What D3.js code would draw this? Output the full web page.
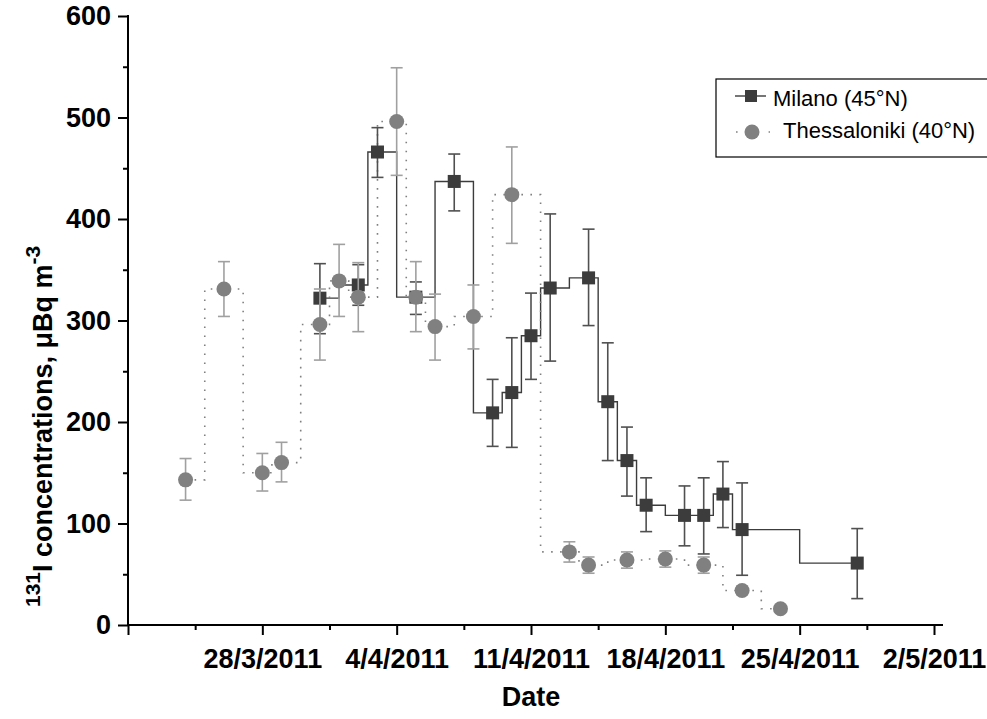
<!DOCTYPE html>
<html>
<head>
<meta charset="utf-8">
<script src="https://cdn.jsdelivr.net/npm/d3@7"></script>
<style>
  body { margin: 0; background: #fff; }
  text { font-family: Arial, "Liberation Sans", sans-serif; }
</style>
</head>
<body>
<script>
var w = 987;
var h = 719;

// Milano (45°N)
var milanoDates = ["2011-03-31","2011-04-02","2011-04-03","2011-04-05","2011-04-07","2011-04-09","2011-04-10","2011-04-11","2011-04-12","2011-04-14","2011-04-15","2011-04-16","2011-04-17","2011-04-19","2011-04-20","2011-04-21","2011-04-22","2011-04-28"];
var milanoValues = [322,335,466,323,437,209,229,285,332,342,220,162,118,108,108,129,94,61];
var milanoLow = [287,315,441,306,408,176,175,242,260,295,162,127,92,78,70,96,49,26];
var milanoHigh = [356,355,490,338,464,242,283,327,405,390,278,195,145,137,145,161,140,95];

// Thessaloniki (40°N)
var thessDates = ["2011-03-24","2011-03-26","2011-03-28","2011-03-29","2011-03-31","2011-04-01","2011-04-02","2011-04-04","2011-04-05","2011-04-06","2011-04-08","2011-04-10","2011-04-13","2011-04-14","2011-04-16","2011-04-18","2011-04-20","2011-04-22","2011-04-24"];
var thessValues = [143,331,150,160,296,339,323,496,323,294,304,424,72,59,64,65,59,34,16];
var thessLow = [123,304,132,141,261,304,289,443,289,261,272,376,62,51,56,57,51,30,13];
var thessHigh = [164,358,169,180,331,375,357,549,358,326,335,471,82,67,72,73,67,38,19];

// axis ticks
var xMajorTicks = ["2011-03-21","2011-03-28","2011-04-04","2011-04-11","2011-04-18","2011-04-25","2011-05-02"];
var yMajorTicks = [0,100,200,300,400,500,600];
var yMinorTicks = [50,150,250,350,450,550];

var parse = d3.utcParse("%Y-%m-%d");
var fmt = d3.utcFormat("%-d/%-m/%Y");

var svg = d3.select("body")
  .append("svg")
  .attr("width", w)
  .attr("height", h);

var x = d3.scaleUtc()
  .domain([parse("2011-03-21"), parse("2011-05-02")])
  .range([128, 934]);

var y = d3.scaleLinear()
  .domain([0, 600])
  .range([625, 16]);

function rows(dates, vals, lo, hi) {
  return dates.map(function(d, i) {
    return { date: parse(d), v: vals[i], lo: lo[i], hi: hi[i] };
  });
}
var milano = rows(milanoDates, milanoValues, milanoLow, milanoHigh);
var thess = rows(thessDates, thessValues, thessLow, thessHigh);

var majorDates = xMajorTicks.map(parse);
var minorDates = majorDates.slice(0, -1).map(function(d) {
  return new Date(d.getTime() + 3.5 * 864e5);
});

// x axis
var gx = svg.append("g").attr("transform", "translate(0,625)");
gx.call(d3.axisBottom(x).tickValues(majorDates).tickSize(10).tickSizeOuter(0)
  .tickFormat(function(d, i) { return i === 0 ? "" : fmt(d); }));
gx.append("g").call(d3.axisBottom(x).tickValues(minorDates).tickSize(5).tickFormat(""))
  .select(".domain").remove();
gx.select(".domain").remove();
gx.append("line").attr("x1", 127).attr("x2", 943).attr("stroke", "#000").attr("stroke-width", 2);
gx.selectAll(".tick line").attr("stroke", "#000").attr("stroke-width", 2);
gx.selectAll(".tick text")
  .attr("y", 43).attr("dy", null)
  .style("font-size", "27px").style("font-weight", "bold").attr("fill", "#000");

// y axis
var gy = svg.append("g").attr("transform", "translate(128,0)");
gy.call(d3.axisLeft(y).tickValues(yMajorTicks).tickSize(10).tickSizeOuter(0).tickPadding(7));
gy.append("g").call(d3.axisLeft(y).tickValues(yMinorTicks).tickSize(5).tickFormat(""))
  .select(".domain").remove();
gy.select(".domain").remove();
gy.append("line").attr("y1", 15).attr("y2", 626).attr("stroke", "#000").attr("stroke-width", 2);
gy.selectAll(".tick line").attr("stroke", "#000").attr("stroke-width", 2);
gy.selectAll(".tick text")
  .style("font-size", "27px").style("font-weight", "bold").attr("fill", "#000");

// axis titles
svg.append("text")
  .attr("x", 531).attr("y", 706)
  .attr("text-anchor", "middle")
  .style("font-size", "27px").style("font-weight", "bold")
  .text("Date");

var yt = svg.append("text")
  .attr("transform", "translate(52,607) rotate(-90)")
  .style("font-size", "27px").style("font-weight", "bold");
yt.append("tspan").attr("dy", -12).style("font-size", "21px").text("131");
yt.append("tspan").attr("dy", 12).text("I concentrations, \u03bcBq m");
yt.append("tspan").attr("dy", -12).style("font-size", "21px").text("-3");

// step lines
var line = d3.line()
  .x(function(d) { return x(d.date); })
  .y(function(d) { return y(d.v); })
  .curve(d3.curveStep);

svg.append("path").datum(milano)
  .attr("d", line)
  .attr("fill", "none")
  .attr("stroke", "#3c3c3c")
  .attr("stroke-width", 1.4);

svg.append("path").datum(thess)
  .attr("d", line)
  .attr("fill", "none")
  .attr("stroke", "#808080")
  .attr("stroke-width", 1.6)
  .attr("stroke-dasharray", "1.6,7.4");

function errorBars(data, color) {
  var g = svg.append("g").attr("stroke", color).attr("stroke-width", 1.6);
  g.selectAll(".v").data(data).enter().append("line")
    .attr("x1", function(d) { return x(d.date); })
    .attr("x2", function(d) { return x(d.date); })
    .attr("y1", function(d) { return y(d.lo); })
    .attr("y2", function(d) { return y(d.hi); });
  ["lo", "hi"].forEach(function(k) {
    g.selectAll(".c" + k).data(data).enter().append("line")
      .attr("x1", function(d) { return x(d.date) - 6; })
      .attr("x2", function(d) { return x(d.date) + 6; })
      .attr("y1", function(d) { return y(d[k]); })
      .attr("y2", function(d) { return y(d[k]); });
  });
}

// Milano markers
errorBars(milano, "#505050");
svg.selectAll(".sq").data(milano).enter().append("rect")
  .attr("x", function(d) { return x(d.date) - 6.5; })
  .attr("y", function(d) { return y(d.v) - 6.5; })
  .attr("width", 13).attr("height", 13)
  .attr("fill", "#3c3c3c");

// Thessaloniki markers
errorBars(thess, "#a0a0a0");
svg.selectAll(".ci").data(thess).enter().append("circle")
  .attr("cx", function(d) { return x(d.date); })
  .attr("cy", function(d) { return y(d.v); })
  .attr("r", 7.5)
  .attr("fill", "#808080");

// legend
var lg = svg.append("g");
lg.append("rect")
  .attr("x", 716).attr("y", 79).attr("width", 300).attr("height", 78)
  .attr("fill", "#fff").attr("stroke", "#000").attr("stroke-width", 1.2);
lg.append("line").attr("x1", 735).attr("x2", 766).attr("y1", 96).attr("y2", 96)
  .attr("stroke", "#3c3c3c").attr("stroke-width", 1.4);
lg.append("rect").attr("x", 745).attr("y", 90).attr("width", 12).attr("height", 12).attr("fill", "#3c3c3c");
lg.append("text").attr("x", 773).attr("y", 106).style("font-size", "22px").text("Milano (45\u00b0N)");
lg.append("line").attr("x1", 736).attr("x2", 770).attr("y1", 132).attr("y2", 132)
  .attr("stroke", "#808080").attr("stroke-width", 1.6).attr("stroke-dasharray", "1.6,31");
lg.append("circle").attr("cx", 752).attr("cy", 132).attr("r", 7.5).attr("fill", "#808080");
lg.append("text").attr("x", 783).attr("y", 138).style("font-size", "22px").text("Thessaloniki (40\u00b0N)");
</script>
</body>
</html>
